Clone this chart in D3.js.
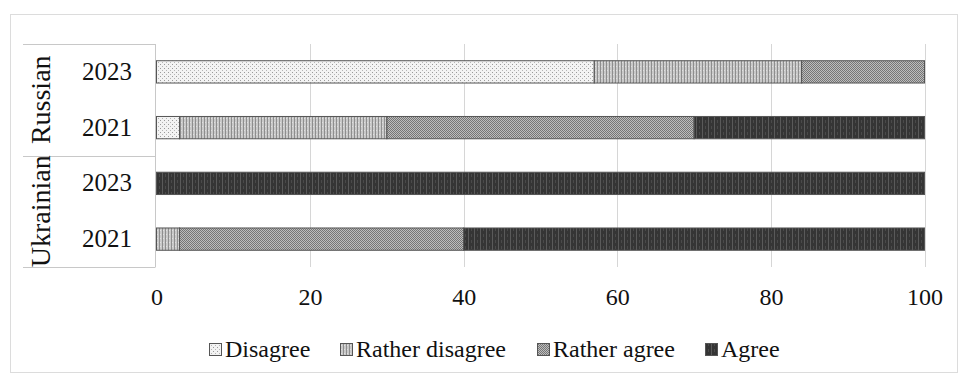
<!DOCTYPE html>
<html><head><meta charset="utf-8">
<script src="https://cdn.jsdelivr.net/npm/d3@7"></script>
<style>
html,body{margin:0;padding:0;background:#fff;}
text{font-family:"Liberation Serif","Times New Roman",serif;fill:#111;}
</style></head>
<body><svg id="chart" width="963" height="380"></svg>
<script>
// ---- data ----
const groups = ["Russian", "Ukrainian"];
const rows = [
  {group: "Russian", year: "2023"},
  {group: "Russian", year: "2021"},
  {group: "Ukrainian", year: "2023"},
  {group: "Ukrainian", year: "2021"}
];
const seriesNames = ["Disagree", "Rather disagree", "Rather agree", "Agree"];
const disagree       = [57, 3, 0, 0];
const ratherDisagree = [27, 27, 0, 3];
const ratherAgree    = [16, 40, 0, 37];
const agree          = [0, 30, 100, 60];
const xTicks = [0, 20, 40, 60, 80, 100];

const seriesValues = [disagree, ratherDisagree, ratherAgree, agree];
const table = rows.map((r, i) => {
  const o = {key: r.group + " " + r.year, group: r.group, year: r.year};
  seriesNames.forEach((s, j) => o[s] = seriesValues[j][i]);
  return o;
});

const svg = d3.select("#chart");

// patterns
const defs = svg.append("defs");
function pat(id, w, h, base, draw) {
  const p = defs.append("pattern").attr("id", id).attr("patternUnits", "userSpaceOnUse")
    .attr("width", w).attr("height", h);
  p.append("rect").attr("width", w).attr("height", h).attr("fill", base);
  draw(p);
}
pat("p0", 4, 4, "#f3f3f3", p => {
  p.append("rect").attr("x", 0).attr("y", 0).attr("width", 1).attr("height", 1).attr("fill", "#9a9a9a");
  p.append("rect").attr("x", 2).attr("y", 2).attr("width", 1).attr("height", 1).attr("fill", "#b5b5b5");
});
pat("p1", 3, 4, "#c9c9c9", p => {
  p.append("rect").attr("x", 0).attr("y", 0).attr("width", 1).attr("height", 4).attr("fill", "#8e8e8e");
  p.append("rect").attr("x", 1).attr("y", 2).attr("width", 1).attr("height", 1).attr("fill", "#e0e0e0");
});
pat("p2", 2, 2, "#bdbdbd", p => {
  p.append("rect").attr("x", 0).attr("y", 0).attr("width", 1).attr("height", 1).attr("fill", "#767676");
  p.append("rect").attr("x", 1).attr("y", 1).attr("width", 1).attr("height", 1).attr("fill", "#767676");
});
pat("p3", 6, 6, "#353535", p => {
  p.append("rect").attr("x", 0).attr("y", 0).attr("width", 1).attr("height", 6).attr("fill", "#5a5a5a");
  p.append("rect").attr("x", 3).attr("y", 0).attr("width", 1).attr("height", 3).attr("fill", "#4a4a4a");
});
const fills = ["url(#p0)", "url(#p1)", "url(#p2)", "url(#p3)"];

// frame
svg.append("rect").attr("x", 10.5).attr("y", 14.5).attr("width", 947).attr("height", 358)
  .attr("fill", "none").attr("stroke", "#dcdcdc");

// scales
const x = d3.scaleLinear().domain([0, 100]).range([156.5, 924.5]);
const yTop = 44, yBottom = 267;
const y = d3.scaleBand().domain(table.map(d => d.key)).range([yTop, yBottom])
  .paddingInner(0.6).paddingOuter(0.3);

// gridlines
svg.append("g").selectAll("line").data(xTicks.filter(t => t > 0)).join("line")
  .attr("x1", d => Math.round(x(d)) + 0.5).attr("x2", d => Math.round(x(d)) + 0.5)
  .attr("y1", yTop).attr("y2", yBottom).attr("stroke", "#d6d6d6").attr("stroke-width", 1);

// x axis labels
const xAxis = d3.axisBottom(x).tickValues(xTicks).tickSize(0).tickPadding(0);
const gx = svg.append("g").attr("transform", `translate(0,${yBottom})`).call(xAxis);
gx.select(".domain").remove();
gx.selectAll("text").attr("font-size", 24).attr("dy", 0).attr("y", 38)
  .style("font-family", '"Liberation Serif",serif').attr("fill", "#111");

// stacked bars
const stack = d3.stack().keys(seriesNames);
const stacked = stack(table);
svg.append("g").selectAll("g").data(stacked).join("g")
  .attr("fill", (d, i) => fills[i])
  .selectAll("rect").data(d => d.filter(v => v[1] - v[0] > 0)).join("rect")
  .attr("x", d => x(d[0])).attr("width", d => x(d[1]) - x(d[0]))
  .attr("y", d => y(d.data.key)).attr("height", y.bandwidth())
  .attr("stroke", "#555").attr("stroke-width", 1);

// category axis box
const cat = svg.append("g");
const leftX = 23, axisX = 155.5;
cat.append("line").attr("x1", axisX).attr("x2", axisX).attr("y1", yTop).attr("y2", yBottom)
  .attr("stroke", "#c8c8c8");
const gap = (y.step() - y.bandwidth()) / 2;
const groupBounds = groups.map((g, gi) => {
  const ks = table.filter(d => d.group === g).map(d => d.key);
  const y0 = gi === 0 ? yTop : y(ks[0]) - gap;
  const y1 = gi === groups.length - 1 ? yBottom : y(ks[ks.length - 1]) + y.bandwidth() + gap;
  return {g, y0, y1};
});
const hLines = [yTop, ...groupBounds.map(b => b.y1)];
cat.selectAll("line.h").data(hLines).join("line").attr("class", "h")
  .attr("x1", leftX).attr("x2", axisX).attr("y1", d => Math.round(d) + 0.5).attr("y2", d => Math.round(d) + 0.5)
  .attr("stroke", "#c8c8c8");
cat.selectAll("text.yr").data(table).join("text").attr("class", "yr")
  .attr("x", 132).attr("y", d => y(d.key) + y.bandwidth() / 2 + 8)
  .attr("text-anchor", "end").attr("font-size", 25).text(d => d.year);
cat.selectAll("text.grp").data(groupBounds).join("text").attr("class", "grp")
  .attr("transform", d => `translate(50,${(d.y0 + d.y1) / 2}) rotate(-90)`)
  .attr("text-anchor", "middle").attr("font-size", 28).text(d => d.g);

// legend
const legendX = [209, 340, 537, 705];
const leg = svg.append("g").selectAll("g").data(seriesNames).join("g")
  .attr("transform", (d, i) => `translate(${legendX[i]},343)`);
leg.append("rect").attr("x", 0.5).attr("y", 0.5).attr("width", 12).attr("height", 12)
  .attr("fill", (d, i) => fills[i]).attr("stroke", "#555");
leg.append("text").attr("x", 16).attr("y", 14).attr("font-size", 24).text(d => d);
</script></body></html>
